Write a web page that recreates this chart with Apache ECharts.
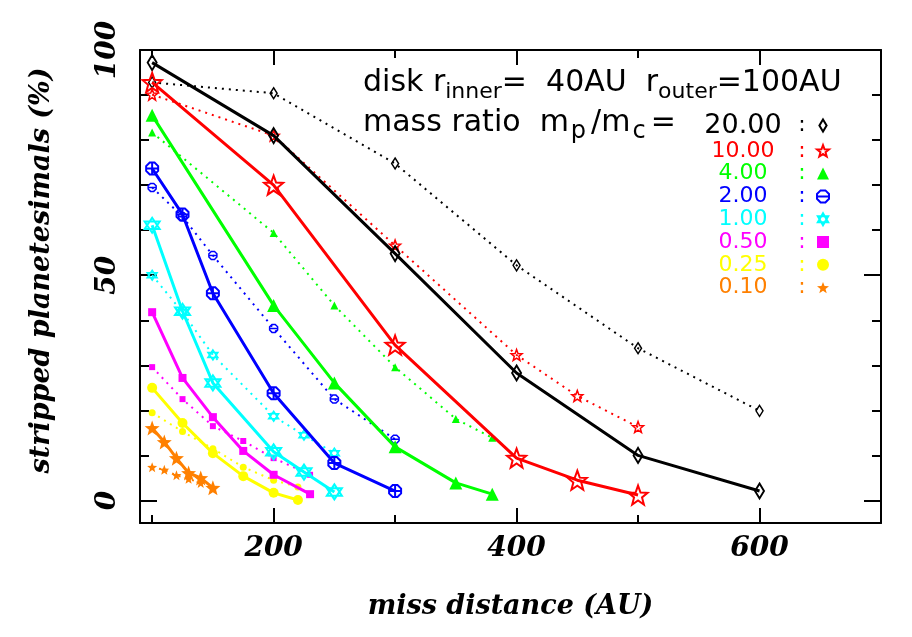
<!DOCTYPE html>
<html>
<head>
<meta charset="utf-8">
<script src="https://cdn.jsdelivr.net/npm/echarts@6/dist/echarts.min.js"></script>
<style>
  html, body { margin: 0; padding: 0; background: #fff; }
  #chart { width: 912px; height: 637px; }
</style>
</head>
<body>
<div id="chart"></div>
<script>
// mass ratio labels (legend)
var ratioNames = ['20.00', '10.00', '4.00', '2.00', '1.00', '0.50', '0.25', '0.10'];

// miss distance (AU) per curve
var x20 = [100, 200, 300, 400, 500, 600];
var x10 = [100, 200, 300, 400, 450, 500];
var x4 = [100, 200, 250, 300, 350, 380];
var x2 = [100, 125, 150, 200, 250, 300];
var x1 = [100, 125, 150, 200, 225, 250];
var x050 = [100, 125, 150, 175, 200, 230];
var x025 = [100, 125, 150, 175, 200, 220];
var x010 = [100, 110, 120, 130, 140, 150];
var x010dot = [100, 110, 120, 130, 140];

// stripped planetesimals (%) : solid and dotted curves
var solid20 = [97.2, 81.0, 54.8, 28.3, 10.0, 2.1];
var dotted20 = [92.8, 90.4, 74.8, 52.2, 33.8, 19.9];
var solid10 = [92.8, 70.0, 34.5, 9.4, 4.5, 1.2];
var dotted10 = [90.1, 81.0, 56.6, 32.3, 23.2, 16.3];
var solid4 = [85.5, 43.3, 26.1, 11.9, 3.9, 1.4];
var dotted4 = [81.7, 59.4, 43.3, 29.6, 18.1, 13.9];
var solid2 = [73.7, 63.5, 46.0, 23.8, 8.3, 2.1];
var dotted2 = [69.5, 63.0, 54.4, 38.2, 22.5, 13.6];
var solid1 = [61.1, 42.0, 26.1, 10.8, 6.3, 1.9];
var dotted1 = [50.0, 41.8, 32.3, 18.7, 14.5, 10.5];
var solid050 = [41.8, 27.2, 18.5, 11.0, 5.7, 1.4];
var dotted050 = [29.6, 22.5, 16.5, 13.2, 9.4, 5.7];
var solid025 = [25.0, 17.2, 10.5, 5.4, 1.7, 0.1];
var dotted025 = [19.5, 15.3, 11.5, 7.4, 4.5, 3.0];
var solid010 = [16.1, 13.0, 9.4, 6.1, 5.0, 2.8];
var dotted010 = [7.4, 6.8, 5.6, 4.8, 3.9];

// tick positions
var xMajorTicks = [200, 400, 600];
var xMinorTicks = [100, 300, 500];
var yMajorTicks = [0, 50, 100];
var yMinorTicks = [10, 20, 30, 40, 60, 70, 80, 90];

function starPath(r2) {
    var s = 'path://';
    for (var i = 0; i < 10; i++) {
        var r = i % 2 ? r2 : 1;
        var a = Math.PI * i / 5 - Math.PI / 2;
        s += (i ? 'L' : 'M') + (r * Math.cos(a)).toFixed(3) + ',' + (r * Math.sin(a)).toFixed(3);
    }
    return s + 'Z';
}
var SYM = {
    diamond: 'path://M0,-1L0.6,0L0,1L-0.6,0Z',
    star: starPath(0.42),
    hexagram: 'path://M0,-1L0.866,0.5L-0.866,0.5Z M0,1L0.866,-0.5L-0.866,-0.5Z',
    octCross: 'path://M-0.4,-1L0.4,-1L1,-0.4L1,0.4L0.4,1L-0.4,1L-1,0.4L-1,-0.4Z M-1,0L1,0 M0,-1L0,1',
    octBar: 'path://M-0.4,-1L0.4,-1L1,-0.4L1,0.4L0.4,1L-0.4,1L-1,0.4L-1,-0.4Z M-1,0L1,0'
};

function zip(xs, ys) {
    return ys.map(function (y, i) { return [xs[i], y]; });
}

// style per mass ratio
var curves = [
    { name: '20.00', color: '#000000', xs: x20, xd: x20, s: solid20, d: dotted20, sym: SYM.diamond, symD: SYM.diamond, hollow: true, size: [9, 15], sizeD: [7, 11] },
    { name: '10.00', color: '#ff0000', xs: x10, xd: x10, s: solid10, d: dotted10, sym: SYM.star, symD: SYM.star, hollow: true, size: 19, sizeD: 11 },
    { name: '4.00', color: '#00ff00', xs: x4, xd: x4, s: solid4, d: dotted4, sym: 'triangle', symD: 'triangle', hollow: false, size: 13, sizeD: 8 },
    { name: '2.00', color: '#0000ff', xs: x2, xd: x2, s: solid2, d: dotted2, sym: SYM.octCross, symD: SYM.octBar, hollow: true, size: 12, sizeD: 8 },
    { name: '1.00', color: '#00ffff', xs: x1, xd: x1, s: solid1, d: dotted1, sym: SYM.hexagram, symD: SYM.hexagram, hollow: true, size: 15, sizeD: 10 },
    { name: '0.50', color: '#ff00ff', xs: x050, xd: x050, s: solid050, d: dotted050, sym: 'rect', symD: 'rect', hollow: false, size: 8, sizeD: 6 },
    { name: '0.25', color: '#ffff00', xs: x025, xd: x025, s: solid025, d: dotted025, sym: 'circle', symD: 'circle', hollow: false, size: 10, sizeD: 7 },
    { name: '0.10', color: '#ff8000', xs: x010, xd: x010dot, s: solid010, d: dotted010, sym: SYM.star, symD: SYM.star, hollow: false, size: 15, sizeD: 10 }
];

var series = [];
curves.forEach(function (c) {
    var item = c.hollow
        ? { color: 'rgba(0,0,0,0)', borderColor: c.color, borderWidth: 2 }
        : { color: c.color };
    var itemD = c.hollow
        ? { color: 'rgba(0,0,0,0)', borderColor: c.color, borderWidth: 1.5 }
        : { color: c.color };
    series.push({
        name: c.name, type: 'line', data: zip(c.xs, c.s),
        symbol: c.sym, symbolSize: c.size, showAllSymbol: true,
        lineStyle: { color: c.color, width: 3 }, itemStyle: item,
        animation: false, z: 3
    });
    series.push({
        name: c.name + ' dotted', type: 'line', data: zip(c.xd, c.d),
        symbol: c.symD, symbolSize: c.sizeD, showAllSymbol: true,
        lineStyle: { color: c.color, width: 2, type: [2, 5] }, itemStyle: itemD,
        animation: false, z: 2
    });
});

var serifFont = { fontFamily: 'DejaVu Serif', fontStyle: 'italic', fontWeight: 'bold', fontSize: 27, color: '#000' };

function xAxisCfg(pos, ticks, len, main) {
    return {
        type: 'value', position: pos, min: 90, max: 700,
        axisLine: { show: main, onZero: false, lineStyle: { color: '#000', width: 2 } },
        axisTick: { show: true, inside: true, length: len, customValues: ticks, lineStyle: { color: '#000', width: 2 } },
        axisLabel: { show: main && pos === 'bottom', customValues: xMajorTicks, margin: 12,
            fontFamily: serifFont.fontFamily, fontStyle: 'italic', fontWeight: 'bold', fontSize: 28, color: '#000' },
        splitLine: { show: false }
    };
}
function yAxisCfg(pos, ticks, len, main) {
    return {
        type: 'value', position: pos, min: -5, max: 100,
        axisLine: { show: main, onZero: false, lineStyle: { color: '#000', width: 2 } },
        axisTick: { show: true, inside: true, length: len, customValues: ticks, lineStyle: { color: '#000', width: 2 } },
        axisLabel: { show: main && pos === 'left', customValues: yMajorTicks, rotate: 90, margin: 18,
            fontFamily: serifFont.fontFamily, fontStyle: 'italic', fontWeight: 'bold', fontSize: 28, color: '#000' },
        splitLine: { show: false }
    };
}

var xAxes = [
    xAxisCfg('bottom', xMajorTicks, 15, true),
    xAxisCfg('bottom', xMinorTicks, 8, false),
    xAxisCfg('top', xMajorTicks, 15, true),
    xAxisCfg('top', xMinorTicks, 8, false)
];
xAxes[0].name = 'miss distance (AU)';
xAxes[0].nameLocation = 'middle';
xAxes[0].nameGap = 70;
xAxes[0].nameTextStyle = serifFont;

var yAxes = [
    yAxisCfg('left', yMajorTicks, 17, true),
    yAxisCfg('left', yMinorTicks, 9, false),
    yAxisCfg('right', yMajorTicks, 17, true),
    yAxisCfg('right', yMinorTicks, 9, false)
];
yAxes[0].name = 'stripped planetesimals (%)';
yAxes[0].nameLocation = 'middle';
yAxes[0].nameGap = 85;
yAxes[0].nameTextStyle = Object.assign({}, serifFont, { padding: [0, 0, 0, 32] });

var legendIcons = [SYM.diamond, SYM.star, 'triangle', SYM.octBar, SYM.hexagram, 'rect', 'circle', SYM.star];

var sansFont = 'DejaVu Sans';
var headRich = {
    m: { fontFamily: sansFont, fontSize: 30, lineHeight: 30, verticalAlign: 'top', fill: '#000' },
    u: { fontFamily: sansFont, fontSize: 22, lineHeight: 22, padding: [13, 0, 0, 0], verticalAlign: 'top', fill: '#000' },
    v: { fontFamily: sansFont, fontSize: 24, lineHeight: 24, padding: [12, 5, 0, 2], verticalAlign: 'top', fill: '#000' }
};
var option = {
    backgroundColor: '#fff',
    animation: false,
    grid: { left: 140, right: 31, top: 50, bottom: 114, containLabel: false, outerBoundsMode: 'none' },
    xAxis: xAxes,
    yAxis: yAxes,
    legend: {
        orient: 'vertical', right: 82, top: 112, align: 'right',
        selectedMode: false, itemWidth: 12, itemHeight: 12, itemGap: 0.8, padding: 0,
        data: ratioNames.map(function (n, i) {
            return { name: n, icon: legendIcons[i], textStyle: { color: curves[i].color } };
        }),
        formatter: function (name) {
            return (name === '20.00' ? '{b|' : '{n|') + name + '}{s| }{c|:}';
        },
        textStyle: {
            fontFamily: sansFont, fontSize: 22, lineHeight: 21,
            rich: {
                n: { fontFamily: sansFont, fontSize: 22, width: 62, align: 'right', lineHeight: 21 },
                b: { fontFamily: sansFont, fontSize: 27, width: 62, align: 'right', lineHeight: 21 },
                s: { width: 18, fontSize: 18, lineHeight: 21 },
                c: { fontFamily: sansFont, fontSize: 22, width: 20, align: 'center', lineHeight: 21 }
            }
        }
    },
    graphic: [
        {
            type: 'text', left: 363, top: 68,
            style: { text: '{m|disk r}{u|inner}{m|=  40AU  r}{u|outer}{m|=100AU}', rich: headRich }
        },
        {
            type: 'text', left: 363, top: 108,
            style: { text: '{m|mass ratio  m}{v|p}{m|/m}{v|c}{m|=}', rich: headRich }
        }
    ],
    series: series
};

var myChart = echarts.init(document.getElementById('chart'));
myChart.setOption(option);
</script>
</body>
</html>
